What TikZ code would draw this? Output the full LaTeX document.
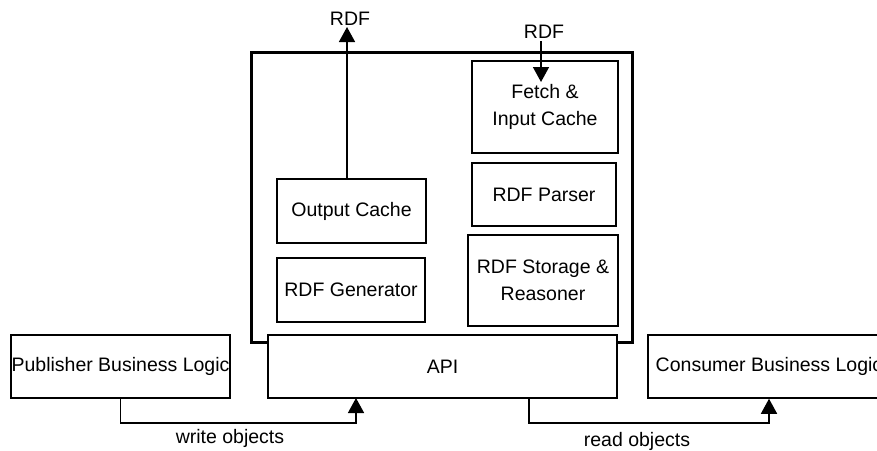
\documentclass[tikz,border=0pt]{standalone}
\usepackage{fontspec}
\setmainfont{Liberation Sans}
\usetikzlibrary{arrows.meta}
\begin{document}
\begin{tikzpicture}[x=1pt,y=-1pt,
  every node/.style={font=\fontsize{19.5}{27}\selectfont},
  box/.style={draw, line width=1.5pt, fill=white, inner sep=0pt, align=center},
  outerbox/.style={draw, line width=3pt, inner sep=0pt},
  conn/.style={line width=1.5pt, -{Triangle[width=16pt,length=15pt]}},
  lbl/.style={inner sep=0pt}]
\useasboundingbox (0,0) rectangle (877,450);
\clip (0,0) rectangle (877,450);
% outer component box
\node[outerbox, minimum width=381pt, minimum height=290pt] (outer) at (441.5,197) {};
% inner boxes
\node[box, minimum width=149pt, minimum height=64pt] (outc) at (351.5,211) {Output Cache};
\node[box, minimum width=148pt, minimum height=64pt] (gen) at (351,290) {RDF Generator};
\node[box, minimum width=146pt, minimum height=92pt] (fetch) at (545,107) {Fetch \&\\Input Cache};
\node[box, minimum width=144pt, minimum height=63pt] (parser) at (544,194.5) {RDF Parser};
\node[box, minimum width=150pt, minimum height=91pt] (store) at (543,280.5) {RDF Storage \&\\Reasoner};
% bottom row
\node[box, minimum width=349pt, minimum height=63pt] (api) at (442.5,366.5) {API};
\node[box, minimum width=219pt, minimum height=63pt] (pub) at (120.5,366.5) {Publisher Business Logic};
\node[box, minimum width=242pt, minimum height=63pt] (cons) at (769,366.5) {Consumer Business Logic};
% RDF labels
\node[lbl] (rdfout) at (350,19) {RDF};
\node[lbl] (rdfin) at (544,32) {RDF};
\coordinate (ocout) at (347,179);
\coordinate (rdfouttip) at (347,27);
\coordinate (rdfinstart) at (541,41);
\coordinate (fetchtip) at (541,82);
\draw[conn] (ocout) -- (rdfouttip);
\draw[conn] (rdfinstart) -- (fetchtip);
% write / read
\coordinate (wtin) at (356,398);
\coordinate (rdout) at (529,398);
\draw[conn] (pub.south) -- ++(0,24) -| (wtin);
\draw[conn] (rdout) -- ++(0,25) -| (cons.south);
\node[lbl] (wlbl) at (230,438) {write objects};
\node[lbl] (rlbl) at (637,441) {read objects};
\end{tikzpicture}
\end{document}
